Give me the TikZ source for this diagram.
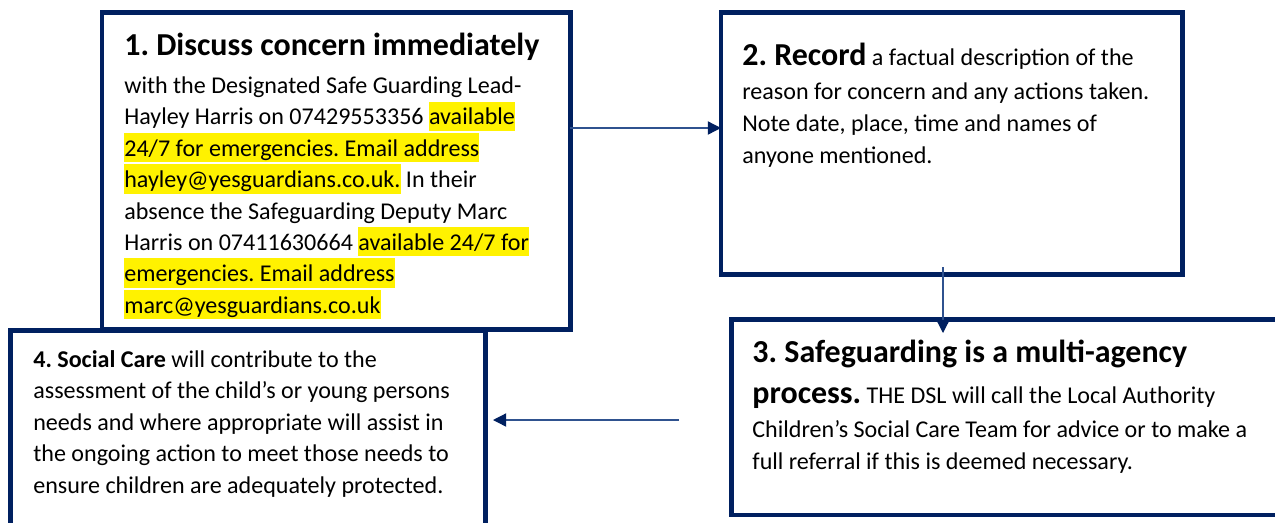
\documentclass[tikz,border=0pt]{standalone}
\usepackage{fontspec}
\setmainfont{Carlito}
\usepackage{tikz}
\usetikzlibrary{arrows.meta,positioning}
\definecolor{navy}{RGB}{0,32,96}
\definecolor{linkblue}{RGB}{47,82,143}
\newcommand{\hl}[1]{{\setlength{\fboxsep}{0pt}\colorbox{yellow}{\rule[-3.4pt]{0pt}{16.7pt}#1}}}
\newcommand{\steptitle}{\fontsize{18.2}{18}\selectfont\bfseries}
\newcommand{\firstline}{\rule{0pt}{14pt}}
\frenchspacing

\begin{document}
\begin{tikzpicture}[x=0.02cm,y=-0.02cm,
  stepbox/.style={rectangle, draw=navy, line width=2.8pt, fill=white, inner sep=0pt, outer sep=0pt, anchor=north west},
  steptext/.style={inner sep=0pt, align=left, text=black},
  link/.style={draw=linkblue, line width=0.75pt, -{Triangle[length=7.5pt,width=7.5pt,color=navy]}}]
\useasboundingbox (0,0) rectangle (1275,522);
\clip (0,0) rectangle (1275,522);
%Boxes
\node[stepbox, minimum width=9.37cm, minimum height=6.34cm]  (discuss)    at (102,12.5) {};
\node[stepbox, minimum width=9.24cm, minimum height=5.244cm] (record)     at (721,12.5) {};
\node[stepbox, minimum width=11.37cm, minimum height=3.914cm] (agency)    at (731.5,319.3) {};
\node[stepbox, minimum width=9.51cm, minimum height=4.29cm]  (socialcare) at (10.5,330.5) {};

%Texts
\node[steptext, font=\fontsize{13.7}{17.85}\selectfont, below right=10.2pt and 12.5pt of discuss.north west] (discusstext) {\firstline{\steptitle 1. Discuss concern immediately}\\[3.9pt]
with the Designated Safe Guarding Lead-\\
Hayley Harris on 07429553356 \hl{available}\\
\hl{24/7 for emergencies. Email address}\\
\hl{hayley@yesguardians.co.uk.} In their\\
absence the Safeguarding Deputy Marc\\
Harris on 07411630664 \hl{available 24/7 for}\\
\hl{emergencies. Email address}\\
\hl{marc@yesguardians.co.uk}};
\node[steptext, font=\fontsize{13.7}{18.2}\selectfont, below right=15.9pt and 11.95pt of record.north west] (recordtext) {\firstline{\steptitle 2. Record} a factual description of the\\[1.15pt]
reason for concern and any actions taken.\\
Note date, place, time and names of\\
anyone mentioned.};
\node[steptext, font=\fontsize{13.7}{18.2}\selectfont, below right=10.3pt and 11.7pt of agency.north west] (agencytext) {\firstline{\steptitle 3. Safeguarding is a multi-agency}\\[5.1pt]
{\steptitle process.} THE DSL will call the Local Authority\\[1.15pt]
Children’s Social Care Team for advice or to make a\\
full referral if this is deemed necessary.};
\node[steptext, font=\fontsize{13.7}{17.9}\selectfont, below right=6.8pt and 12.8pt of socialcare.north west] (socialcaretext) {\firstline\textbf{4. Social Care} will contribute to the\\
assessment of the child’s or young persons\\
needs and where appropriate will assist in\\
the ongoing action to meet those needs to\\
ensure children are adequately protected.};

%Arrows
\coordinate (a12) at (0,128);
\coordinate (a23) at (943,267);
\coordinate (b23) at (943,333);
\coordinate (a34) at (679,420);
\coordinate (b34) at (493,420);
\draw[link] (discuss.east |- a12) -- (record.west |- a12);
\draw[link] (a23) -- (b23);
\draw[link] (a34) -- (b34);
\end{tikzpicture}
\end{document}
